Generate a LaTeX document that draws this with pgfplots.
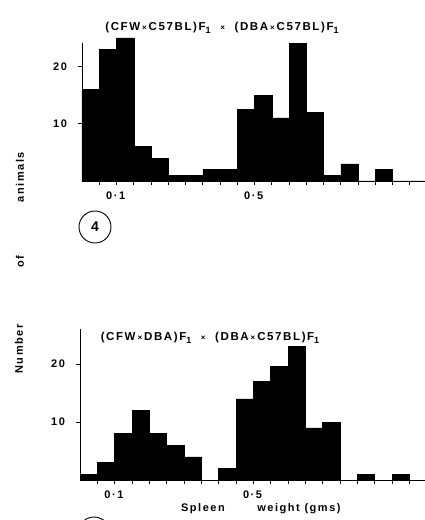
\documentclass[border=0pt]{standalone}
\usepackage{pgfplots}
\pgfplotsset{compat=1.18}
\usepackage{fontspec}
\setmainfont{Liberation Sans}[LetterSpace=14]
\newcommand{\tm}{{\fontsize{8}{9}\selectfont ×}}
\newcommand{\sub}{\raisebox{-3.5pt}{\fontsize{9}{10}\selectfont 1}}
\begin{document}
\begin{tikzpicture}
\useasboundingbox (0pt,0pt) rectangle (425pt,520pt);
\pgfplotsset{
  hist/.style={
    scale only axis, clip=false,
    xmin=0, xmax=1, ymin=0,
    axis x line*=bottom, axis y line*=left,
    axis line style={black, line width=0.8pt},
    tick style={black, line width=0.8pt},
    tick align=outside,
    major tick length=4pt, minor tick length=4pt,
    xtick={0.1,0.5},
    xticklabels={\textbf{0·1},\textbf{0·5}},
    minor xtick={0.05,0.15,0.2,0.25,0.3,0.35,0.4,0.45,0.55,0.6,0.65,0.7,0.75,0.8,0.85,0.9,0.95},
    ytick={10,20},
    yticklabels={\textbf{10},\textbf{20}},
    tick label style={font=\fontsize{11}{12}\selectfont},
    xticklabel style={yshift=-3pt},
    yticklabel style={xshift=-6pt},
  }
}
% Top panel
\begin{axis}[hist, at={(82pt,339pt)}, anchor=south west,
  width=345pt, height=137.5pt, ymax=24]
\addplot[ybar interval, fill=black, draw=black] coordinates {
(0,16) (0.05,23) (0.1,25) (0.15,6) (0.2,4) (0.25,1) (0.3,1) (0.35,2) (0.4,2)
(0.45,12.5) (0.5,15) (0.55,11) (0.6,24) (0.65,12) (0.7,1) (0.75,3) (0.8,0)
(0.85,2) (0.9,0) (0.95,0) (1.0,0)};
\end{axis}
% Bottom panel
\begin{axis}[hist, at={(80pt,40pt)}, anchor=south west,
  width=346.7pt, height=150.8pt, ymax=26]
\addplot[ybar interval, fill=black, draw=black] coordinates {
(0,1) (0.05,3) (0.1,8) (0.15,12) (0.2,8) (0.25,6) (0.3,4) (0.35,0) (0.4,2)
(0.45,14) (0.5,17) (0.55,19.6) (0.6,23) (0.65,9) (0.7,10) (0.75,0) (0.8,1)
(0.85,0) (0.9,1) (0.95,0) (1.0,0)};
\end{axis}
% Titles
\node[font=\fontsize{11.5}{13}\selectfont\bfseries] at (222pt,492pt)
  {(CFW\,\tm\,C57BL)F\sub\ \ \tm\ \ (DBA\,\tm\,C57BL)F\sub};
\node[font=\fontsize{11.5}{13}\selectfont\bfseries] at (210pt,182pt)
  {(CFW\,\tm\,DBA)F\sub\ \ \tm\ \ (DBA\,\tm\,C57BL)F\sub};
% Axis labels
\node[font=\fontsize{11}{12}\selectfont\bfseries] at (203pt,11pt) {Spleen};
\node[font=\fontsize{11}{12}\selectfont\bfseries] at (299pt,11pt) {weight (gms)};
\node[rotate=90, font=\fontsize{11}{12}\selectfont\bfseries] at (20pt,343pt) {animals};
\node[rotate=90, font=\fontsize{11}{12}\selectfont\bfseries] at (20pt,258pt) {of};
\node[rotate=90, font=\fontsize{11}{12}\selectfont\bfseries] at (19pt,171pt) {Number};
% Panel markers
\draw[line width=0.9pt] (95pt,293pt) circle (16pt);
\node[font=\fontsize{14}{15}\selectfont\bfseries] at (95pt,293pt) {4};
\draw[line width=0.9pt] (94pt,-13pt) circle (16pt);
\end{tikzpicture}
\end{document}
